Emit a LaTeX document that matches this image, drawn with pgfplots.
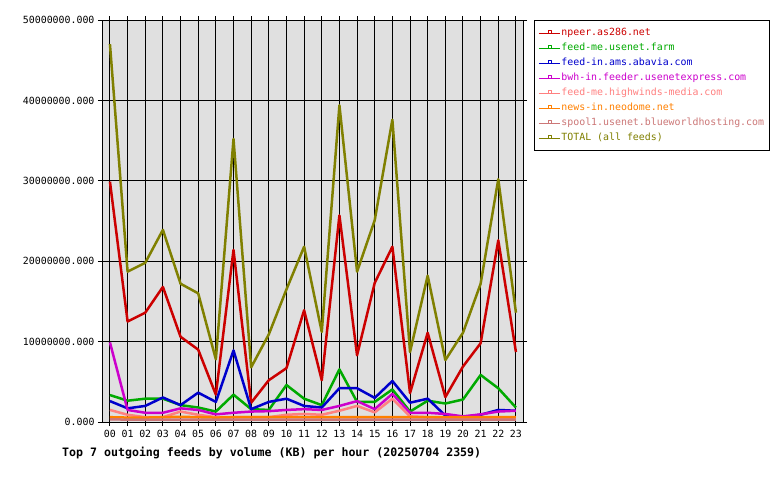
\documentclass[border=0pt]{standalone}
\usepackage{pgfplots}
\pgfplotsset{compat=1.18}
\usepackage{pgfplotstable}
\usepackage{fontspec}
\setmonofont{DejaVu Sans Mono}
\newfontfamily\feedmono{DejaVu Sans Mono}

\definecolor{plotbg}{RGB}{224,224,224}
\definecolor{cnpeer}{RGB}{204,0,0}
\definecolor{cfarm}{RGB}{0,170,0}
\definecolor{cabavia}{RGB}{0,0,204}
\definecolor{cbwh}{RGB}{204,0,204}
\definecolor{chighwinds}{RGB}{255,128,128}
\definecolor{cneodome}{RGB}{255,128,0}
\definecolor{cspool}{RGB}{204,119,119}
\definecolor{ctotal}{RGB}{128,128,0}

% Outgoing volume per feed and hour, in KB
\pgfplotstableread{
hour npeer    farm    abavia  bwh     highwinds neodome spool  total
0    29900000 3350000 2600000 9900000 1500000   600000  330000 47000000
1    12500000 2650000 1700000 1500000 900000    550000  300000 18700000
2    13600000 2900000 2000000 1150000 600000    550000  300000 19800000
3    16800000 2900000 3050000 1150000 600000    600000  300000 23900000
4    10600000 2100000 2100000 1700000 1300000   650000  300000 17200000
5    9000000  1800000 3650000 1500000 900000    600000  300000 16000000
6    3400000  1300000 2500000 950000  600000    550000  300000 7800000
7    21400000 3400000 8900000 1150000 600000    600000  300000 35200000
8    2400000  1600000 1600000 1300000 600000    600000  300000 6800000
9    5200000  1500000 2500000 1350000 600000    600000  300000 10900000
10   6700000  4600000 2900000 1500000 900000    600000  300000 16500000
11   13900000 2900000 2000000 1600000 1000000   600000  300000 21800000
12   5200000  2100000 1800000 1500000 900000    600000  300000 11200000
13   25700000 6550000 4200000 2000000 1400000   600000  300000 39400000
14   8300000  2500000 4200000 2600000 2000000   600000  300000 18700000
15   17300000 2500000 3000000 1600000 1200000   600000  300000 25100000
16   21800000 4050000 5100000 3500000 2900000   600000  300000 37600000
17   3600000  1300000 2400000 1150000 700000    600000  300000 8700000
18   11100000 2650000 2900000 1150000 600000    600000  300000 18200000
19   3100000  2300000 800000  1000000 500000    600000  300000 7700000
20   6900000  2800000 600000  700000  400000    600000  300000 11100000
21   9800000  5850000 900000  950000  500000    600000  300000 17200000
22   22600000 4200000 1500000 1300000 500000    600000  300000 30200000
23   8700000  1800000 1400000 1400000 500000    600000  300000 13600000
}\feeds

\newcommand\tickfont{\feedmono\fontsize{9.9}{10}\selectfont}

\begin{document}
\begin{tikzpicture}
\path[use as bounding box] (0pt,0pt) rectangle (780pt,-480pt);
\begin{axis}[
  at={(102pt,-422pt)}, anchor=south west,
  scale only axis, width=421pt, height=402pt,
  xmin=-0.45, xmax=23.4, ymin=0, ymax=50000000,
  xtick={0,...,23},
  xticklabels={00,01,02,03,04,05,06,07,08,09,10,11,12,13,14,15,16,17,18,19,20,21,22,23},
  ytick={0,10000000,20000000,30000000,40000000,50000000},
  yticklabels={0.000,10000000.000,20000000.000,30000000.000,40000000.000,50000000.000},
  scaled y ticks=false,
  grid=major,
  major grid style={black, line width=1pt},
  axis background/.style={fill=plotbg},
  axis line style={line width=1pt},
  tick align=outside, major tick length=4pt,
  tick style={black, line width=1pt},
  ticklabel style={font=\tickfont},
  x tick label style={yshift=-1pt},
  legend style={at={(1.026,1)}, anchor=north west, draw=black, line width=1pt,
    fill=white, font=\tickfont, inner xsep=4pt, inner ysep=5pt, row sep=0pt,
    nodes={inner sep=1pt, text height=9pt, text depth=4pt},
    cells={anchor=west}},
  legend image code/.code={
    \draw[line width=1pt] (0pt,0pt) -- (21pt,0pt);
    \draw[line width=0.8pt] (9pt,0pt) rectangle (12.5pt,2.5pt);
  },
  every axis plot/.append style={line width=2.5pt, line join=round},
]
\addplot[color=cnpeer, legend image post style={draw=cnpeer}]
  table[x=hour,y=npeer]{\feeds};
\addlegendentry{\textcolor{cnpeer}{npeer.as286.net}}
\addplot[color=cfarm, legend image post style={draw=cfarm}]
  table[x=hour,y=farm]{\feeds};
\addlegendentry{\textcolor{cfarm}{feed-me.usenet.farm}}
\addplot[color=cabavia, legend image post style={draw=cabavia}]
  table[x=hour,y=abavia]{\feeds};
\addlegendentry{\textcolor{cabavia}{feed-in.ams.abavia.com}}
\addplot[color=cbwh, legend image post style={draw=cbwh}]
  table[x=hour,y=bwh]{\feeds};
\addlegendentry{\textcolor{cbwh}{bwh-in.feeder.usenetexpress.com}}
\addplot[color=chighwinds, legend image post style={draw=chighwinds}]
  table[x=hour,y=highwinds]{\feeds};
\addlegendentry{\textcolor{chighwinds}{feed-me.highwinds-media.com}}
\addplot[color=cneodome, legend image post style={draw=cneodome}]
  table[x=hour,y=neodome]{\feeds};
\addlegendentry{\textcolor{cneodome}{news-in.neodome.net}}
\addplot[color=cspool, legend image post style={draw=cspool}]
  table[x=hour,y=spool]{\feeds};
\addlegendentry{\textcolor{cspool}{spool1.usenet.blueworldhosting.com}}
\addplot[color=ctotal, legend image post style={draw=ctotal}]
  table[x=hour,y=total]{\feeds};
\addlegendentry{\textcolor{ctotal}{TOTAL (all feeds)}}
\end{axis}
\node[anchor=west, inner sep=0pt, font=\feedmono\bfseries\fontsize{11.6}{12}\selectfont]
  at (62pt,-452.7pt) {Top 7 outgoing feeds by volume (KB) per hour (20250704 2359)};
\end{tikzpicture}
\end{document}
